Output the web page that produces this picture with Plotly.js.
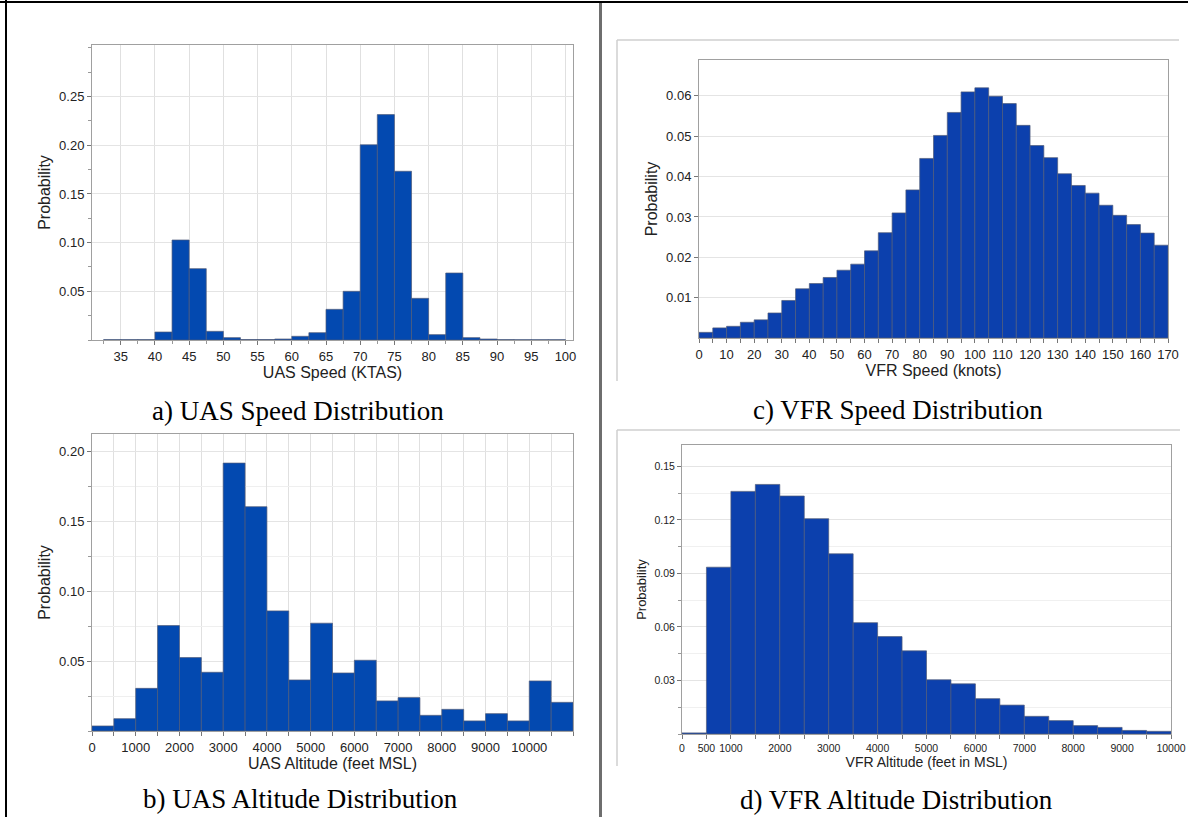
<!DOCTYPE html>
<html>
<head>
<meta charset="utf-8">
<script src="https://cdn.plot.ly/plotly-3.0.1.min.js"></script>
<style>
html,body{margin:0;padding:0;background:#fff;}
#chart{width:1188px;height:817px;}
</style>
</head>
<body>
<div id="chart"></div>
<script>
// ---------- DATA ----------
// a) UAS speed (KTAS), bin left edges, 2.5 kt bins
const uasSpeedBins = [32.5, 35, 37.5, 40, 42.5, 45, 47.5, 50, 52.5, 55, 57.5, 60, 62.5, 65, 67.5, 70, 72.5, 75, 77.5, 80, 82.5, 85, 87.5, 90, 92.5, 95, 97.5];
const uasSpeedProb = [0.0004, 0.0004, 0.0004, 0.0082, 0.1027, 0.0733, 0.0089, 0.0024, 0.0005, 0.0005, 0.0010, 0.0038, 0.0075, 0.0315, 0.0500, 0.2005, 0.2315, 0.1733, 0.0428, 0.0055, 0.0688, 0.0024, 0.0010, 0.0004, 0.0003, 0.0003, 0.0003];
const uasSpeedBinWidth = 2.5;
const uasSpeedTicks = [35, 40, 45, 50, 55, 60, 65, 70, 75, 80, 85, 90, 95, 100];
const uasSpeedYTicks = [0.05, 0.10, 0.15, 0.20, 0.25];

// b) UAS altitude (feet MSL), 500 ft bins
const uasAltBins = [0, 500, 1000, 1500, 2000, 2500, 3000, 3500, 4000, 4500, 5000, 5500, 6000, 6500, 7000, 7500, 8000, 8500, 9000, 9500, 10000, 10500];
const uasAltProb = [0.0036, 0.0088, 0.0305, 0.0754, 0.0525, 0.0420, 0.1916, 0.1604, 0.0859, 0.0365, 0.0771, 0.0415, 0.0506, 0.0215, 0.0239, 0.0112, 0.0155, 0.0072, 0.0124, 0.0072, 0.0358, 0.0205];
const uasAltBinWidth = 500;
const uasAltTicks = [0, 1000, 2000, 3000, 4000, 5000, 6000, 7000, 8000, 9000, 10000];
const uasAltYTicks = [0.05, 0.10, 0.15, 0.20];

// c) VFR speed (knots), 5 kt bins
const vfrSpeedBins = [0, 5, 10, 15, 20, 25, 30, 35, 40, 45, 50, 55, 60, 65, 70, 75, 80, 85, 90, 95, 100, 105, 110, 115, 120, 125, 130, 135, 140, 145, 150, 155, 160, 165];
const vfrSpeedProb = [0.0014, 0.0025, 0.0029, 0.0039, 0.0045, 0.0062, 0.0093, 0.0122, 0.0135, 0.0150, 0.0168, 0.0183, 0.0216, 0.0261, 0.0310, 0.0367, 0.0445, 0.0502, 0.0559, 0.0610, 0.0620, 0.0599, 0.0581, 0.0527, 0.0477, 0.0447, 0.0407, 0.0378, 0.0359, 0.0329, 0.0304, 0.0281, 0.0260, 0.0230];
const vfrSpeedBinWidth = 5;
const vfrSpeedTicks = [0, 10, 20, 30, 40, 50, 60, 70, 80, 90, 100, 110, 120, 130, 140, 150, 160, 170];
const vfrSpeedYTicks = [0.01, 0.02, 0.03, 0.04, 0.05, 0.06];

// d) VFR altitude (feet in MSL), 500 ft bins
const vfrAltBins = [0, 500, 1000, 1500, 2000, 2500, 3000, 3500, 4000, 4500, 5000, 5500, 6000, 6500, 7000, 7500, 8000, 8500, 9000, 9500];
const vfrAltProb = [0.0006, 0.0935, 0.1360, 0.1399, 0.1334, 0.1207, 0.1010, 0.0624, 0.0546, 0.0466, 0.0304, 0.0281, 0.0198, 0.0162, 0.0099, 0.0075, 0.0047, 0.0037, 0.0020, 0.0015];
const vfrAltBinWidth = 500;
const vfrAltTicks = [0, 500, 1000, 2000, 3000, 4000, 5000, 6000, 7000, 8000, 9000, 10000];
const vfrAltYTicks = [0.03, 0.06, 0.09, 0.12, 0.15];

const captions = ["a) UAS Speed Distribution", "b) UAS Altitude Distribution", "c) VFR Speed Distribution", "d) VFR Altitude Distribution"];

// ---------- STYLE ----------
const W = 1188, H = 817;
const px = v => v / W;
const py = v => 1 - v / H;
const colA = '#0349b0';
const colC = '#0c40ad';
const barLine = {color: '#4f5a78', width: 0.7};
const sans = 'Liberation Sans, Arial, sans-serif';
const serif = 'Liberation Serif, Times New Roman, serif';

function barTrace(x, y, w, xa, ya, col) {
  return {type: 'bar', x: x, y: y, width: w, offset: 0, xaxis: xa, yaxis: ya,
    marker: {color: col, line: barLine}, hoverinfo: 'x+y', showlegend: false};
}

const data = [
  barTrace(uasSpeedBins, uasSpeedProb, uasSpeedBinWidth, 'x', 'y', colA),
  barTrace(uasAltBins, uasAltProb, uasAltBinWidth, 'x2', 'y2', colA),
  barTrace(vfrSpeedBins, vfrSpeedProb, vfrSpeedBinWidth, 'x3', 'y3', colC),
  barTrace(vfrAltBins, vfrAltProb, vfrAltBinWidth, 'x4', 'y4', colC)
];

function xAxis(dom, anchor, range, ticks, title, fs, tfs, opts) {
  return Object.assign({
    domain: dom, anchor: anchor, range: range, tickmode: 'array', tickvals: ticks,
    ticktext: ticks.map(String), ticks: 'outside', ticklen: 4, tickcolor: '#777',
    showline: true, linecolor: '#a0a0a0', linewidth: 1, mirror: true, zeroline: false,
    tickfont: {family: sans, size: fs, color: '#222'},
    title: {text: title, font: {family: sans, size: tfs, color: '#222'}, standoff: 3},
    fixedrange: true
  }, opts || {});
}
function yAxis(dom, anchor, range, ticks, fs, tfs, opts) {
  return Object.assign({
    domain: dom, anchor: anchor, range: range, tickmode: 'array', tickvals: ticks,
    ticks: 'outside', ticklen: 4, tickcolor: '#777', tickformat: '.2f',
    showline: true, linecolor: '#a0a0a0', linewidth: 1, mirror: true, zeroline: false,
    showgrid: true, gridcolor: '#e4e4e4', gridwidth: 1,
    tickfont: {family: sans, size: fs, color: '#222'},
    title: {text: 'Probability', font: {family: sans, size: tfs, color: '#222'}, standoff: 4},
    fixedrange: true
  }, opts || {});
}

const layout = {
  width: W, height: H, margin: {l: 0, r: 0, t: 0, b: 0},
  paper_bgcolor: '#fff', plot_bgcolor: '#fff', bargap: 0, showlegend: false,
  xaxis: xAxis([px(92), px(573)], 'y', [30.8, 101.1], uasSpeedTicks, 'UAS Speed (KTAS)', 13, 16,
    {showgrid: true, gridcolor: '#e0e0e0', minor: {dtick: 2.5, tick0: 0, ticks: 'outside', ticklen: 3, tickcolor: '#999', showgrid: false}}),
  yaxis: yAxis([py(340), py(45)], 'x', [0, 0.303], uasSpeedYTicks, 13, 16,
    {minor: {dtick: 0.025, tick0: 0, ticks: 'outside', ticklen: 3, tickcolor: '#999', showgrid: false}}),

  xaxis2: xAxis([px(92), px(573)], 'y2', [0, 11000], uasAltTicks, 'UAS Altitude (feet MSL)', 13, 16,
    {showgrid: true, gridcolor: '#e0e0e0', minor: {dtick: 500, tick0: 0, ticks: 'outside', ticklen: 4, tickcolor: '#777', showgrid: true, gridcolor: '#e0e0e0'}}),
  yaxis2: yAxis([py(731), py(434)], 'x2', [0, 0.2124], uasAltYTicks, 13, 16,
    {minor: {dtick: 0.025, tick0: 0, ticks: 'outside', ticklen: 3, tickcolor: '#999', showgrid: true, gridcolor: '#efefef'}}),

  xaxis3: xAxis([px(699), px(1168)], 'y3', [0, 170], vfrSpeedTicks, 'VFR Speed (knots)', 13, 16,
    {showgrid: false, minor: {dtick: 5, tick0: 0, ticks: 'outside', ticklen: 4, tickcolor: '#777', showgrid: false}}),
  yaxis3: yAxis([py(338), py(60)], 'x3', [0, 0.0689], vfrSpeedYTicks, 13, 16, {}),

  xaxis4: xAxis([px(682), px(1171)], 'y4', [0, 10000], vfrAltTicks, 'VFR Altitude (feet in MSL)', 10.5, 14,
    {showgrid: false, minor: {dtick: 500, tick0: 0, ticks: 'outside', ticklen: 4, tickcolor: '#777', showgrid: false}}),
  yaxis4: yAxis([py(734), py(445)], 'x4', [0, 0.162], vfrAltYTicks, 10.5, 13,
    {minor: {dtick: 0.015, tick0: 0, ticks: 'outside', ticklen: 3, tickcolor: '#999', showgrid: true, gridcolor: '#f0f0f0'}}),

  shapes: [
    // outer frame lines
    {type: 'line', xref: 'paper', yref: 'paper', x0: 0, x1: 1, y0: py(2), y1: py(2), line: {color: '#000', width: 2}},
    {type: 'line', xref: 'paper', yref: 'paper', x0: px(6), x1: px(6), y0: 0, y1: 1, line: {color: '#000', width: 2}},
    {type: 'line', xref: 'paper', yref: 'paper', x0: px(600.5), x1: px(600.5), y0: 0, y1: py(3), line: {color: '#6e6e6e', width: 3}},
    // light image frames around right-hand panels
    {type: 'line', xref: 'paper', yref: 'paper', x0: px(617), x1: px(1179), y0: py(40), y1: py(40), line: {color: '#cfcfcf', width: 1.5}},
    {type: 'line', xref: 'paper', yref: 'paper', x0: px(617), x1: px(617), y0: py(40), y1: py(381), line: {color: '#cfcfcf', width: 1.5}},
    {type: 'line', xref: 'paper', yref: 'paper', x0: px(617), x1: px(1180), y0: py(430), y1: py(430), line: {color: '#cfcfcf', width: 1.5}},
    {type: 'line', xref: 'paper', yref: 'paper', x0: px(617), x1: px(617), y0: py(430), y1: py(766), line: {color: '#cfcfcf', width: 1.5}}
  ],
  annotations: [
    {text: captions[0], xref: 'paper', yref: 'paper', x: px(298), y: py(411), xanchor: 'center', yanchor: 'middle', showarrow: false, font: {family: serif, size: 27, color: '#000'}},
    {text: captions[1], xref: 'paper', yref: 'paper', x: px(300), y: py(799), xanchor: 'center', yanchor: 'middle', showarrow: false, font: {family: serif, size: 27, color: '#000'}},
    {text: captions[2], xref: 'paper', yref: 'paper', x: px(898), y: py(410), xanchor: 'center', yanchor: 'middle', showarrow: false, font: {family: serif, size: 27, color: '#000'}},
    {text: captions[3], xref: 'paper', yref: 'paper', x: px(896), y: py(800), xanchor: 'center', yanchor: 'middle', showarrow: false, font: {family: serif, size: 27, color: '#000'}}
  ]
};

Plotly.newPlot('chart', data, layout, {displayModeBar: false, staticPlot: true});
</script>
</body>
</html>
